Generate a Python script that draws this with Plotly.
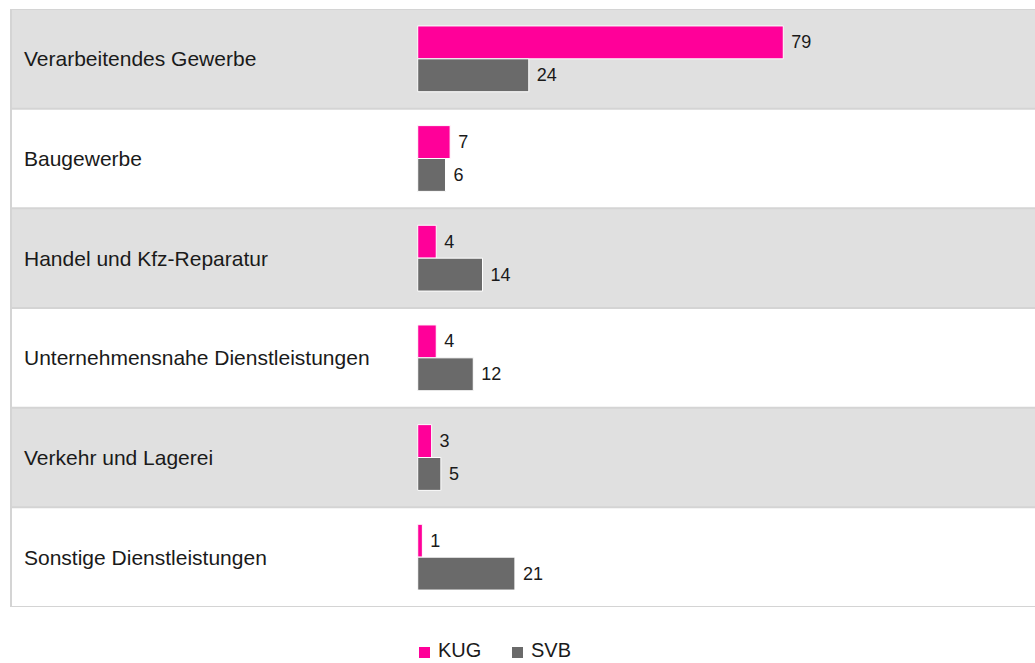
import plotly.graph_objects as go

# Branchen (top to bottom) and their values
categories = [
    "Verarbeitendes Gewerbe",
    "Baugewerbe",
    "Handel und Kfz-Reparatur",
    "Unternehmensnahe Dienstleistungen",
    "Verkehr und Lagerei",
    "Sonstige Dienstleistungen",
]
kug = [79, 7, 4, 4, 3, 1]
svb = [24, 6, 14, 12, 5, 21]

series_names = ["KUG", "SVB"]
series_colors = ["#ff0099", "#6a6a6a"]

FONT = "Liberation Sans, Arial, sans-serif"
TEXT_COLOR = "#1a1a1a"
ROW_GREY = "#e0e0e0"
RULE = "#d4d4d4"

W, H = 1035, 663
M_L, M_R, M_T, M_B = 11, 0, 9, 56
PW, PH = W - M_L - M_R, H - M_T - M_B


def px_x(px):
    return (px - M_L) / PW


def px_y(py):
    return (H - M_B - py) / PH


fig = go.Figure()
for name, vals, col in zip(series_names, [kug, svb], series_colors):
    fig.add_trace(go.Bar(
        name=name,
        y=categories,
        x=vals,
        orientation="h",
        marker=dict(color=col, line=dict(color="white", width=1)),
        text=vals,
        texttemplate=" %{x}",
        textposition="outside",
        textfont=dict(family=FONT, size=18, color=TEXT_COLOR),
        cliponaxis=False,
        hoverinfo="skip",
        showlegend=False,
    ))

shapes = []
annotations = []
for i, cat in enumerate(categories):
    # alternating row bands
    shapes.append(dict(
        type="rect", xref="paper", yref="y",
        x0=0, x1=1, y0=i - 0.5, y1=i + 0.5,
        fillcolor=ROW_GREY if i % 2 == 0 else "white",
        line=dict(width=0), layer="below",
    ))
    # category label on the left
    annotations.append(dict(
        xref="paper", yref="y", x=px_x(22), y=cat,
        text=cat, showarrow=False, xanchor="left", yanchor="middle",
        font=dict(family=FONT, size=21, color=TEXT_COLOR),
    ))

# horizontal rules between rows, plus top and bottom
for k in range(len(categories) + 1):
    shapes.append(dict(
        type="line", xref="paper", yref="y",
        x0=0, x1=1, y0=k - 0.5, y1=k - 0.5,
        line=dict(color=RULE, width=2), layer="below",
    ))
# left frame edge
shapes.append(dict(
    type="line", xref="paper", yref="paper",
    x0=0, x1=0, y0=0, y1=1,
    line=dict(color=RULE, width=2), layer="below",
))

# legend below the chart: square swatch + label
legend_items = [(419, 438), (512, 531)]
for (sq_x, tx_x), name, col in zip(legend_items, series_names, series_colors):
    shapes.append(dict(
        type="rect", xref="paper", yref="paper",
        x0=px_x(sq_x), x1=px_x(sq_x + 11),
        y0=px_y(658), y1=px_y(647),
        fillcolor=col, line=dict(width=0),
    ))
    annotations.append(dict(
        xref="paper", yref="paper", x=px_x(tx_x - 1), y=px_y(662),
        text=name, showarrow=False, xanchor="left", yanchor="bottom",
        borderpad=0,
        font=dict(family=FONT, size=20, color=TEXT_COLOR),
    ))

fig.update_layout(
    width=W, height=H,
    margin=dict(l=M_L, r=M_R, t=M_T, b=M_B),
    paper_bgcolor="white", plot_bgcolor="white",
    barmode="group", bargap=0.34, bargroupgap=0,
    xaxis=dict(visible=False, range=[-87.9, 133.4], fixedrange=True),
    yaxis=dict(visible=False, type="category",
               range=[len(categories) - 0.5, -0.5], fixedrange=True),
    shapes=shapes,
    annotations=annotations,
    showlegend=False,
    font=dict(family=FONT, color=TEXT_COLOR),
)

fig.write_html("out.html")
